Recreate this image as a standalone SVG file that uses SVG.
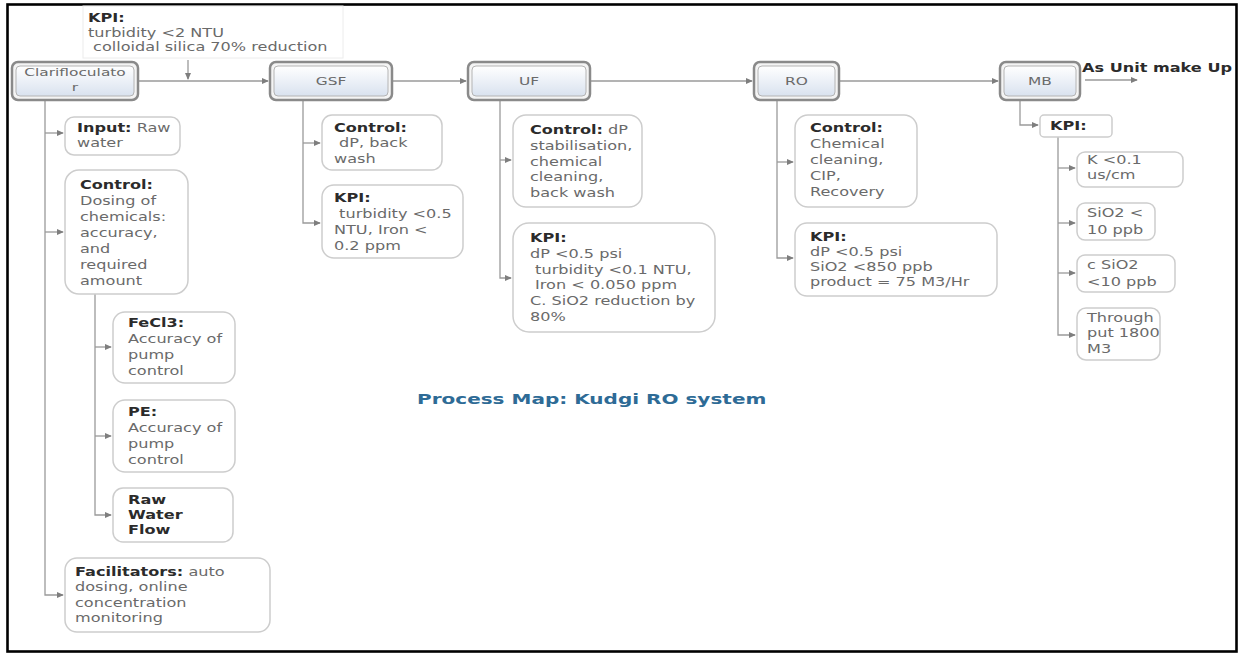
<svg xmlns="http://www.w3.org/2000/svg" width="1239" height="654" viewBox="0 0 1239 654">
<style>
.t{font-family:"DejaVu Sans","Verdana",sans-serif;font-size:11.5px;fill:#6a6a6a}
.b{font-weight:bold;fill:#2b2b2b}
.lbl{font-family:"DejaVu Sans","Verdana",sans-serif;font-size:11px;fill:#6a6a6a}
.box{fill:#fff;stroke:#cdcdcd;stroke-width:1.5}
.po{fill:#f4f4f4;stroke:#8a8a8a;stroke-width:2.5}
.pi{fill:url(#g);stroke:#b4b4b4;stroke-width:1}
.c{fill:none;stroke:#9a9a9a;stroke-width:1.3}
.ttl{font-family:"DejaVu Sans","Verdana",sans-serif;font-size:14px;font-weight:bold;fill:#2e6b96}
</style>
<defs>
<linearGradient id="g" x1="0" y1="0" x2="0" y2="1">
<stop offset="0" stop-color="#ffffff"/>
<stop offset="1" stop-color="#d9e2ef"/>
</linearGradient>
<marker id="a" viewBox="0 0 8 8" refX="7" refY="4" markerWidth="7" markerHeight="7" markerUnits="userSpaceOnUse" orient="auto">
<path d="M0,0.5 L8,4 L0,7.5 z" fill="#7e7e7e"/>
</marker>
</defs>
<rect x="0" y="0" width="1239" height="654" fill="#fff"/>
<rect x="7.5" y="4.5" width="1229" height="647" fill="none" stroke="#000" stroke-width="2.6"/>

<g id="connectors">
<path class="c" d="M138,81 H268" marker-end="url(#a)"/>
<path class="c" d="M392,81 H466" marker-end="url(#a)"/>
<path class="c" d="M590,81 H752" marker-end="url(#a)"/>
<path class="c" d="M839,81 H998" marker-end="url(#a)"/>
<path class="c" d="M1085,80 H1137" marker-end="url(#a)"/>
<path class="c" d="M188,60 V79" marker-end="url(#a)"/>
<path class="c" d="M45,100 V595 H63" marker-end="url(#a)"/>
<path class="c" d="M45,133 H63" marker-end="url(#a)"/>
<path class="c" d="M45,232 H63" marker-end="url(#a)"/>
<path class="c" d="M95,294 V515 H111" marker-end="url(#a)"/>
<path class="c" d="M95,347 H111" marker-end="url(#a)"/>
<path class="c" d="M95,436 H111" marker-end="url(#a)"/>
<path class="c" d="M303,100 V223 H320" marker-end="url(#a)"/>
<path class="c" d="M303,143 H320" marker-end="url(#a)"/>
<path class="c" d="M500,100 V278 H511" marker-end="url(#a)"/>
<path class="c" d="M500,160 H511" marker-end="url(#a)"/>
<path class="c" d="M777,100 V258 H793" marker-end="url(#a)"/>
<path class="c" d="M777,162 H793" marker-end="url(#a)"/>
<path class="c" d="M1020,100 V125 H1038" marker-end="url(#a)"/>
<path class="c" d="M1058,137 V335 H1075" marker-end="url(#a)"/>
<path class="c" d="M1058,168 H1075" marker-end="url(#a)"/>
<path class="c" d="M1058,223 H1075" marker-end="url(#a)"/>
<path class="c" d="M1058,273 H1075" marker-end="url(#a)"/>
</g>

<g id="kpi-top">
<rect x="83" y="6" width="260" height="52" fill="none" stroke="#ececec" stroke-width="1"/>
<text class="t" transform="translate(88,22) scale(1.4 1)"><tspan x="0" class="b">KPI:</tspan><tspan x="0" dy="14.6">turbidity &lt;2 NTU</tspan><tspan x="0" dy="14.6" xml:space="preserve"> colloidal silica 70% reduction</tspan></text>
</g>

<g id="clarifloculator">
<rect class="po" x="12" y="62" width="126" height="38" rx="6"/>
<rect class="pi" x="16" y="66" width="118" height="30" rx="4"/>
<text class="lbl" text-anchor="middle" transform="translate(75,76) scale(1.4 1)"><tspan x="0">Clarifloculato</tspan><tspan x="0" dy="15">r</tspan></text>
</g>

<g id="gsf">
<rect class="po" x="270" y="62" width="122" height="38" rx="6"/>
<rect class="pi" x="274" y="66" width="114" height="30" rx="4"/>
<text class="lbl" text-anchor="middle" transform="translate(331,85) scale(1.4 1)">GSF</text>
</g>

<g id="uf">
<rect class="po" x="468" y="62" width="122" height="38" rx="6"/>
<rect class="pi" x="472" y="66" width="114" height="30" rx="4"/>
<text class="lbl" text-anchor="middle" transform="translate(529,85) scale(1.4 1)">UF</text>
</g>

<g id="ro">
<rect class="po" x="754" y="62" width="85" height="38" rx="6"/>
<rect class="pi" x="758" y="66" width="77" height="30" rx="4"/>
<text class="lbl" text-anchor="middle" transform="translate(796.5,85) scale(1.4 1)">RO</text>
</g>

<g id="mb">
<rect class="po" x="1000" y="62" width="80" height="38" rx="6"/>
<rect class="pi" x="1004" y="66" width="72" height="30" rx="4"/>
<text class="lbl" text-anchor="middle" transform="translate(1040,85) scale(1.4 1)">MB</text>
</g>

<g id="unit-makeup">
<text class="t b" transform="translate(1082,72) scale(1.4 1)">As Unit make Up</text>
</g>

<g id="input">
<rect class="box" x="65" y="117" width="115" height="38" rx="9"/>
<text class="t" transform="translate(77,132) scale(1.4 1)"><tspan x="0" class="b">Input:</tspan><tspan> Raw</tspan><tspan x="0" dy="15.5">water</tspan></text>
</g>

<g id="control-clar">
<rect class="box" x="65" y="170" width="123" height="124" rx="14"/>
<text class="t" transform="translate(80,189) scale(1.4 1)"><tspan x="0" class="b">Control:</tspan><tspan x="0" dy="16">Dosing of</tspan><tspan x="0" dy="16">chemicals:</tspan><tspan x="0" dy="16">accuracy,</tspan><tspan x="0" dy="16">and</tspan><tspan x="0" dy="16">required</tspan><tspan x="0" dy="16">amount</tspan></text>
</g>

<g id="fecl3">
<rect class="box" x="113" y="312" width="122" height="71" rx="12"/>
<text class="t" transform="translate(128,327) scale(1.4 1)"><tspan x="0" class="b">FeCl3:</tspan><tspan x="0" dy="16">Accuracy of</tspan><tspan x="0" dy="16">pump</tspan><tspan x="0" dy="16">control</tspan></text>
</g>

<g id="pe">
<rect class="box" x="113" y="400" width="122" height="72" rx="12"/>
<text class="t" transform="translate(128,416) scale(1.4 1)"><tspan x="0" class="b">PE:</tspan><tspan x="0" dy="16">Accuracy of</tspan><tspan x="0" dy="16">pump</tspan><tspan x="0" dy="16">control</tspan></text>
</g>

<g id="raw-water-flow">
<rect class="box" x="113" y="488" width="120" height="54" rx="10"/>
<text class="t b" transform="translate(128,504) scale(1.4 1)"><tspan x="0">Raw</tspan><tspan x="0" dy="15">Water</tspan><tspan x="0" dy="15">Flow</tspan></text>
</g>

<g id="facilitators">
<rect class="box" x="65" y="558" width="205" height="74" rx="12"/>
<text class="t" transform="translate(75,576) scale(1.4 1)"><tspan x="0" class="b">Facilitators:</tspan><tspan> auto</tspan><tspan x="0" dy="15.5">dosing, online</tspan><tspan x="0" dy="15.5">concentration</tspan><tspan x="0" dy="15.5">monitoring</tspan></text>
</g>

<g id="gsf-control">
<rect class="box" x="322" y="115" width="120" height="55" rx="10"/>
<text class="t" transform="translate(334,132) scale(1.4 1)"><tspan x="0" class="b">Control:</tspan><tspan x="0" dy="15.5" xml:space="preserve"> dP, back</tspan><tspan x="0" dy="15.5">wash</tspan></text>
</g>

<g id="gsf-kpi">
<rect class="box" x="322" y="185" width="141" height="73" rx="12"/>
<text class="t" transform="translate(334,202) scale(1.4 1)"><tspan x="0" class="b">KPI:</tspan><tspan x="0" dy="16" xml:space="preserve"> turbidity &lt;0.5</tspan><tspan x="0" dy="16">NTU, Iron &lt;</tspan><tspan x="0" dy="16">0.2 ppm</tspan></text>
</g>

<g id="uf-control">
<rect class="box" x="513" y="115" width="129" height="92" rx="13"/>
<text class="t" transform="translate(530,134) scale(1.4 1)"><tspan x="0" class="b">Control:</tspan><tspan> dP</tspan><tspan x="0" dy="15.8">stabilisation,</tspan><tspan x="0" dy="15.8">chemical</tspan><tspan x="0" dy="15.8">cleaning,</tspan><tspan x="0" dy="15.8">back wash</tspan></text>
</g>

<g id="uf-kpi">
<rect class="box" x="513" y="223" width="202" height="109" rx="16"/>
<text class="t" transform="translate(530,242) scale(1.4 1)"><tspan x="0" class="b">KPI:</tspan><tspan x="0" dy="15.8">dP &lt;0.5 psi</tspan><tspan x="0" dy="15.8" xml:space="preserve"> turbidity &lt;0.1 NTU,</tspan><tspan x="0" dy="15.8" xml:space="preserve"> Iron &lt; 0.050 ppm</tspan><tspan x="0" dy="15.8">C. SiO2 reduction by</tspan><tspan x="0" dy="15.8">80%</tspan></text>
</g>

<g id="ro-control">
<rect class="box" x="795" y="115" width="122" height="92" rx="13"/>
<text class="t" transform="translate(810,132) scale(1.4 1)"><tspan x="0" class="b">Control:</tspan><tspan x="0" dy="16">Chemical</tspan><tspan x="0" dy="16">cleaning,</tspan><tspan x="0" dy="16">CIP,</tspan><tspan x="0" dy="16">Recovery</tspan></text>
</g>

<g id="ro-kpi">
<rect class="box" x="795" y="223" width="202" height="73" rx="12"/>
<text class="t" transform="translate(810,241) scale(1.4 1)"><tspan x="0" class="b">KPI:</tspan><tspan x="0" dy="15">dP &lt;0.5 psi</tspan><tspan x="0" dy="15">SiO2 &lt;850 ppb</tspan><tspan x="0" dy="15">product = 75 M3/Hr</tspan></text>
</g>

<g id="mb-kpi">
<rect class="box" x="1040" y="115" width="72" height="22" rx="4"/>
<text class="t b" transform="translate(1050,130) scale(1.4 1)">KPI:</text>
</g>

<g id="mb-k">
<rect class="box" x="1077" y="152" width="106" height="35" rx="8"/>
<text class="t" transform="translate(1087,164) scale(1.4 1)"><tspan x="0">K &lt;0.1</tspan><tspan x="0" dy="15">us/cm</tspan></text>
</g>

<g id="mb-sio2">
<rect class="box" x="1077" y="203" width="78" height="37" rx="8"/>
<text class="t" transform="translate(1087,217) scale(1.4 1)"><tspan x="0">SiO2 &lt;</tspan><tspan x="0" dy="17">10 ppb</tspan></text>
</g>

<g id="mb-csio2">
<rect class="box" x="1077" y="255" width="98" height="37" rx="8"/>
<text class="t" transform="translate(1087,269) scale(1.4 1)"><tspan x="0">c SiO2</tspan><tspan x="0" dy="17">&lt;10 ppb</tspan></text>
</g>

<g id="mb-throughput">
<rect class="box" x="1077" y="308" width="83" height="52" rx="9"/>
<text class="t" transform="translate(1087,322) scale(1.4 1)"><tspan x="0">Through</tspan><tspan x="0" dy="15.5">put 1800</tspan><tspan x="0" dy="15.5">M3</tspan></text>
</g>

<g id="title">
<text class="ttl" transform="translate(417,404) scale(1.43 1)">Process Map: Kudgi RO system</text>
</g>
</svg>
